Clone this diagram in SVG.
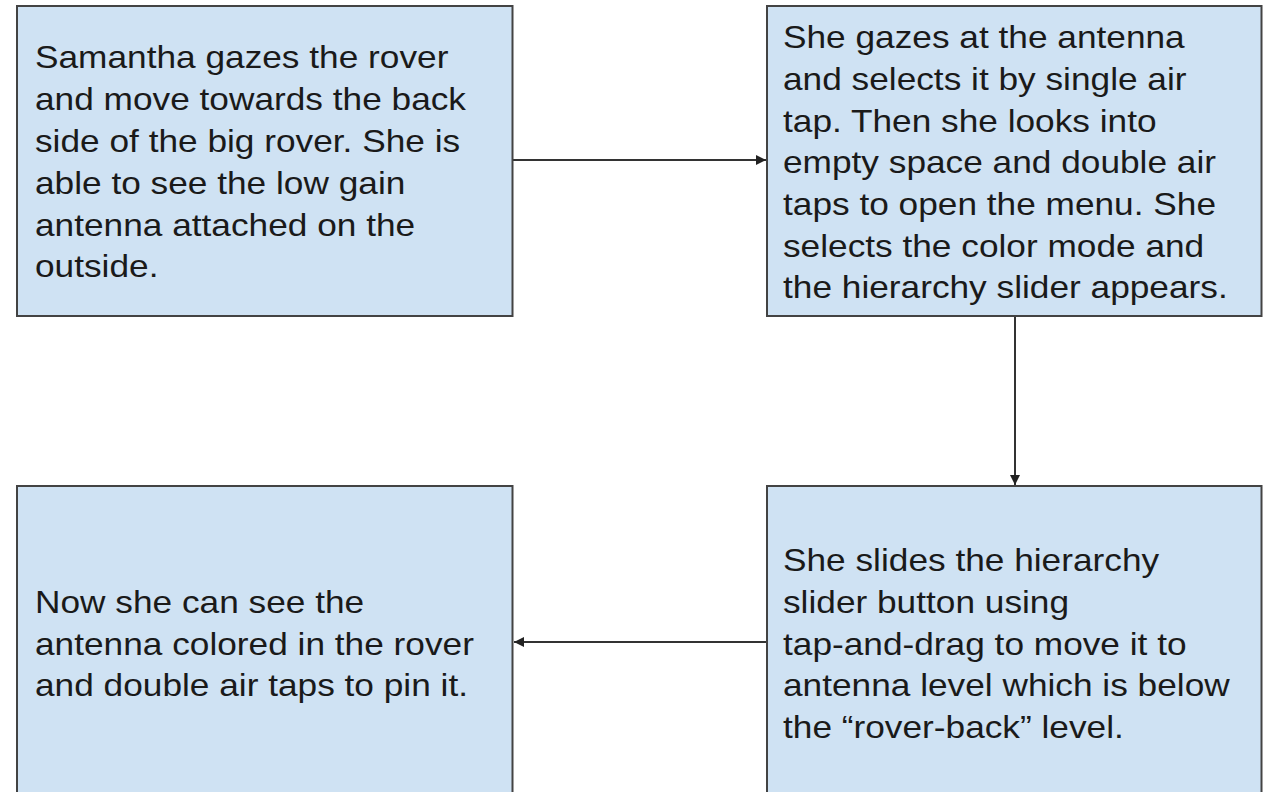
<svg xmlns="http://www.w3.org/2000/svg" width="1263" height="792" viewBox="0 0 1263 792">
  <style>
    .box { fill: #cfe2f3; stroke: #434343; stroke-width: 2; }
    .label { font-family: "Liberation Sans", Arial, sans-serif; font-size: 31px; fill: #1a1a1a; }
    .conn { stroke: #333333; stroke-width: 2; fill: none; marker-end: url(#arrow); }
  </style>
  <defs>
    <marker id="arrow" viewBox="0 0 10 10" refX="10" refY="5" markerWidth="5" markerHeight="5" orient="auto" markerUnits="strokeWidth">
      <path d="M0,0 L10,5 L0,10 z" fill="#222222"/>
    </marker>
  </defs>
  <rect width="1263" height="792" fill="#ffffff"/>

  <g id="connectors">
    <line class="conn" x1="513" y1="160" x2="766" y2="160"/>
    <line class="conn" x1="1015" y1="316" x2="1015" y2="485"/>
    <line class="conn" x1="766" y1="642" x2="514" y2="642"/>
  </g>

  <!-- labels use a slightly widened face: translate to the text column, then stretch horizontally -->
  <g id="step-approach">
    <rect class="box" x="17" y="6" width="495.5" height="310"/>
    <text class="label" transform="translate(35 0) scale(1.137 1)">
      <tspan x="0" y="68">Samantha gazes the rover</tspan>
      <tspan x="0" y="110">and move towards the back</tspan>
      <tspan x="0" y="152">side of the big rover. She is</tspan>
      <tspan x="0" y="194">able to see the low gain</tspan>
      <tspan x="0" y="236">antenna attached on the</tspan>
      <tspan x="0" y="277">outside.</tspan>
    </text>
  </g>

  <g id="step-select">
    <rect class="box" x="767" y="6" width="494.5" height="310"/>
    <text class="label" transform="translate(783 0) scale(1.137 1)">
      <tspan x="0" y="48">She gazes at the antenna</tspan>
      <tspan x="0" y="90">and selects it by single air</tspan>
      <tspan x="0" y="132">tap. Then she looks into</tspan>
      <tspan x="0" y="173">empty space and double air</tspan>
      <tspan x="0" y="215">taps to open the menu. She</tspan>
      <tspan x="0" y="257">selects the color mode and</tspan>
      <tspan x="0" y="298">the hierarchy slider appears.</tspan>
    </text>
  </g>

  <g id="step-slide">
    <rect class="box" x="767" y="486" width="494.5" height="320"/>
    <text class="label" transform="translate(783 0) scale(1.137 1)">
      <tspan x="0" y="571">She slides the hierarchy</tspan>
      <tspan x="0" y="613">slider button using</tspan>
      <tspan x="0" y="655">tap-and-drag to move it to</tspan>
      <tspan x="0" y="696">antenna level which is below</tspan>
      <tspan x="0" y="738">the “rover-back” level.</tspan>
    </text>
  </g>

  <g id="step-pin">
    <rect class="box" x="17" y="486" width="495.5" height="320"/>
    <text class="label" transform="translate(35 0) scale(1.137 1)">
      <tspan x="0" y="613">Now she can see the</tspan>
      <tspan x="0" y="655">antenna colored in the rover</tspan>
      <tspan x="0" y="696">and double air taps to pin it.</tspan>
    </text>
  </g>
</svg>
